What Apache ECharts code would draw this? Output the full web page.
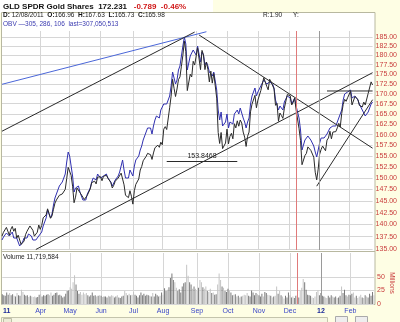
<!DOCTYPE html>
<html><head><meta charset="utf-8">
<script src="https://cdn.jsdelivr.net/npm/echarts@6/dist/echarts.min.js"></script>
<style>html,body{margin:0;padding:0;background:#fefee4;}#c{width:400px;height:322px;}</style>
</head><body><div id="c"></div>
<script>
// GLD daily closes, 24 Feb 2011 .. 24 Feb 2012 (trading days)
const firstDay = '2011-02-24', lastDay = '2012-02-24';
const holidays = ['2011-04-22','2011-05-30','2011-07-04','2011-09-05','2011-11-24','2011-12-26','2012-01-02','2012-01-16','2012-02-20'];

const closes = [
  137.6,138.4,138.8,
  139.4,139.7,137.8,139.0,139.6,138.6,139.2,137.2,137.8,138.0,135.9,135.7,136.6,137.9,138.6,138.5,139.7,139.6,138.8,137.6,137.8,138.4,139.9,
  139.0,139.8,141.4,141.4,142.0,143.3,142.3,141.3,141.8,143.2,144.5,145.2,145.5,146.2,146.3,146.5,146.6,147.5,149.9,152.4,
  152.0,150.6,148.2,144.6,145.8,147.8,148.2,146.8,146.6,145.8,145.3,145.0,146.2,146.3,147.6,149.0,149.2,149.3,148.7,150.2,150.1,
  150.3,149.4,150.4,150.5,150.6,150.0,150.2,149.0,147.8,148.4,149.3,149.1,150.0,150.3,151.1,151.3,148.5,146.2,146.3,145.7,147.2,146.0,
  144.3,147.2,148.6,148.7,149.8,151.8,152.6,153.9,154.2,154.9,155.6,155.2,155.3,154.2,155.7,156.9,157.2,157.5,157.0,158.2,
  157.6,161.3,161.9,161.2,161.6,166.5,169.4,173.7,171.4,169.3,171.2,173.6,174.3,177.1,180.0,183.8,181.0,170.8,171.3,175.0,174.3,178.4,177.4,
  177.2,182.0,181.7,176.2,181.3,180.1,176.2,178.2,176.3,173.0,175.8,172.7,175.2,175.3,168.9,160.5,157.9,160.5,156.7,156.8,158.0,
  161.3,157.8,159.6,160.3,159.0,162.6,161.6,163.3,162.0,163.5,162.8,160.6,159.4,157.2,159.6,160.6,165.5,167.4,167.5,169.6,166.5,
  168.4,168.8,170.8,170.4,174.1,174.5,171.9,171.0,173.7,173.0,173.0,171.2,167.1,167.6,163.2,165.2,164.6,163.9,166.4,166.6,169.8,
  169.4,169.5,167.2,167.8,168.9,165.98,166.4,161.4,158.6,153.0,153.0,155.1,155.6,157.1,157.2,156.3,155.9,154.7,151.3,149.6,152.0,
  155.4,156.5,157.3,157.0,156.2,158.7,159.2,160.8,159.0,160.6,161.0,160.7,161.6,162.7,161.8,165.1,167.3,168.6,168.1,169.0,
  169.5,170.6,167.2,166.9,169.3,169.2,168.6,167.1,167.1,166.7,167.9,167.2,167.2,170.1,170.5,173.02,172.231
];

// On-balance volume, millions
const obv = [
  -107,-98,-95,
  -86,-80,-95,-89,-83,-101,-95,-101,-107,-125,-122,-113,-101,-95,-101,-89,-86,-95,-107,-113,-107,-101,-95,
  -95,-83,-65,-53,-41,-17,-29,-41,-29,-2,19,31,43,55,61,67,73,91,127,157,
  145,115,85,37,49,55,55,37,25,13,7,13,31,37,49,67,79,79,73,91,88,
  79,73,85,85,91,79,85,67,55,61,73,70,85,97,115,133,103,79,85,79,103,97,
  85,115,133,133,145,163,175,193,205,217,229,223,229,211,235,253,265,271,259,283,
  277,301,307,301,301,325,355,397,379,361,373,403,415,445,475,502,481,403,409,445,439,463,457,
  448,475,478,427,457,448,418,427,415,397,403,385,397,391,343,283,253,277,235,241,247,
  271,229,247,253,241,271,265,283,271,289,283,259,247,229,247,259,301,325,331,349,325,
  337,343,355,355,373,379,361,355,367,361,361,349,313,319,283,295,289,283,307,307,325,
  319,319,301,307,319,295,301,259,223,163,169,193,193,205,205,193,187,175,157,142,163,
  184,199,205,199,193,211,217,229,223,235,241,235,247,259,253,283,313,331,325,337,
  337,343,319,313,325,319,313,301,301,283,277,265,259,277,283,301,307.05
];

// Daily volume, millions of shares
const volume = [
  18,16,15,
  21,17,20,16,18,15,14,20,16,15,26,22,17,15,16,13,15,14,13,14,12,13,17,
  18,14,16,15,17,18,16,21,15,17,20,21,16,17,15,12,14,19,24,25,
  31,28,40,53,36,24,19,22,17,21,18,20,16,14,16,21,15,16,14,15,16,
  15,13,14,14,12,15,14,16,15,12,14,16,12,11,14,15,24,20,16,19,16,17,
  22,17,15,12,16,21,16,19,15,17,16,15,14,20,14,19,16,14,15,21,
  17,29,24,26,31,48,56,44,40,30,24,27,21,32,38,40,72,52,40,36,28,32,28,
  24,30,44,40,31,28,32,24,22,28,20,21,17,18,36,56,44,32,30,24,22,
  28,25,21,16,17,18,14,15,12,14,15,17,16,20,15,14,25,21,16,20,18,
  16,14,19,14,22,20,17,16,15,12,14,15,32,19,24,16,14,10,15,12,21,
  16,12,14,11,15,16,12,24,30,46,40,26,17,16,15,12,11,14,22,25,16,
  20,15,14,12,11,15,12,16,14,12,14,11,12,15,32,20,26,16,14,17,
  16,19,21,12,15,11,14,17,12,11,16,14,12,19,15,22,16
];

const priceTicks = [135,137.5,140,142.5,145,147.5,150,152.5,155,157.5,160,162.5,165,167.5,170,172.5,175,177.5,180,182.5,185];
const volumeTicks = [0,25,50];
const monthNames = ['Jan','Feb','Mar','Apr','May','Jun','Jul','Aug','Sep','Oct','Nov','Dec'];

// Trend lines: [day index, price]
const obvTrend     = [[0,172.4],[139,186.4]];
const upperChannel = [[0,160.8],[131,186.3]];
const lowerChannel = [[23,134.9],[252,175.4]];
const peakDecline  = [[134,185.5],[252,156.8]];
const lowRise      = [[214,148.2],[252,168.5]];
const flatTop      = [[221,170.7],[252,170.7]];
const supportLevel = 153.8468;
const markedDay = '2011-12-08';

function tradingDays(a, b) {
  const out = [];
  const d = new Date(a + 'T00:00:00Z'), end = new Date(b + 'T00:00:00Z');
  while (d <= end) {
    const wd = d.getUTCDay(), s = d.toISOString().slice(0, 10);
    if (wd !== 0 && wd !== 6 && holidays.indexOf(s) < 0) out.push(s);
    d.setUTCDate(d.getUTCDate() + 1);
  }
  return out;
}
const dates = tradingDays(firstDay, lastDay);
const monthStart = {};
for (let i = 1; i < dates.length; i++) {
  if (dates[i].slice(5, 7) !== dates[i - 1].slice(5, 7)) monthStart[i] = true;
}
const yearStartIdx = dates.findIndex((d, i) => i > 0 && d.slice(5, 7) === '01' && dates[i - 1].slice(5, 7) === '12');
const isYearStart = i => monthStart[i] && (dates[i].slice(5, 7) === '01' || i === 3);
const monthLabel = (i) => {
  const m = +dates[i].slice(5, 7);
  if (m === 1 || i === 3) return '{y|' + dates[i].slice(2, 4) + '}';
  return monthNames[m - 1];
};

const volColors = volume.map((v, i) => (i === 0 || closes[i] >= closes[i - 1]) ? '#7a7a7a' : '#c4c4c4');

const FONT = 'Liberation Sans, Arial, sans-serif';
const GRID_COLOR = '#d6d6d6';
const LINE_BLACK = '#2a2a2a';
const FRAME = '#b8b8a0';

function trend(data, color) {
  return {
    type: 'line', xAxisIndex: 0, yAxisIndex: 0, data: data, symbol: 'none',
    lineStyle: { color: color, width: 1 }, silent: true, z: 4
  };
}

const chart = echarts.init(document.getElementById('c'), null, { renderer: 'canvas' });
chart.setOption({
  animation: false,
  backgroundColor: '#fefee4',
  graphic: { elements: [
    { type: 'rect', z: -20, silent: true, shape: { x: 0, y: 0, width: 213, height: 13 }, style: { fill: '#ffffff' } },
    { type: 'rect', z: -20, silent: true, shape: { x: 1.5, y: 12.5, width: 373.5, height: 292 }, style: { fill: '#ffffff', stroke: FRAME, lineWidth: 1 } },
    { type: 'line', z: 10, silent: true, shape: { x1: 1.5, y1: 251.5, x2: 375, y2: 251.5 }, style: { stroke: FRAME, lineWidth: 1 } },
    // scroll strip under the date axis
    { type: 'rect', z: 10, silent: true, shape: { x: 1.5, y: 317.5, width: 326, height: 8 }, style: { fill: '#f6f6e2', stroke: '#c4c4ac', lineWidth: 1 } },
    { type: 'rect', z: 11, silent: true, shape: { x: 3.5, y: 318.5, width: 8, height: 6 }, style: { fill: '#ececd6', stroke: '#bdbda6', lineWidth: 1 } },
    { type: 'rect', z: 10, silent: true, shape: { x: 335.5, y: 316.5, width: 12, height: 9 }, style: { fill: '#eeeeee', stroke: '#aaaaaa', lineWidth: 1 } },
    { type: 'rect', z: 10, silent: true, shape: { x: 355.5, y: 316.5, width: 12, height: 9 }, style: { fill: '#eeeeee', stroke: '#aaaaaa', lineWidth: 1 } },
    { type: 'text', z: 10, left: 3, top: 1, style: {
      text: '{b|GLD SPDR Gold Shares  172.231}  {r|-0.789  -0.46%}',
      rich: { b: { font: 'bold 8px ' + FONT, fill: '#111' }, r: { font: 'bold 8px ' + FONT, fill: '#d01818' } }
    } },
    { type: 'text', z: 10, left: 3, top: 12, style: {
      text: '{b|D:} 12/08/2011  {b|O:}166.96  {b|H:}167.63  {b|L:}165.73  {b|C:}165.98',
      rich: { b: { font: 'bold 6.5px ' + FONT, fill: '#111' } },
      font: '6.5px ' + FONT, fill: '#222'
    } },
    { type: 'text', z: 10, left: 3, top: 21, style: { text: 'OBV \u2014305, 286, 106  last=307,050,513', font: '6.5px ' + FONT, fill: '#3a3ab0' } },
    { type: 'text', z: 10, left: 263, top: 12, style: { text: 'R:1.90      Y:', font: '6.5px ' + FONT, fill: '#222' } },
    { type: 'text', z: 10, left: 3, top: 254, style: { text: 'Volume 11,719,584', font: '6.5px ' + FONT, fill: '#222' } },
    { type: 'text', z: 10, x: 392, y: 283, rotation: -Math.PI / 2, style: { text: 'Millions', font: '6.5px ' + FONT, fill: '#c83c3c', align: 'center', verticalAlign: 'middle' } }
  ] },
  grid: [
    { left: 2, right: 26, top: 31, height: 219 },
    { left: 2, right: 26, top: 253, height: 51 }
  ],
  xAxis: [
    { type: 'category', gridIndex: 0, data: dates, boundaryGap: false,
      axisLine: { show: false }, axisTick: { show: false }, axisLabel: { show: false },
      splitLine: { show: true, interval: (i) => !!monthStart[i] && !isYearStart(i), lineStyle: { color: GRID_COLOR, width: 1 } } },
    { type: 'category', gridIndex: 1, data: dates, boundaryGap: false,
      axisLine: { show: false }, axisTick: { show: false },
      axisLabel: { show: true, interval: (i) => !!monthStart[i], formatter: (v, i) => monthLabel(i),
        color: '#3a46c8', fontSize: 7, fontFamily: FONT, margin: 4,
        rich: { y: { color: '#1c2a9a', fontWeight: 'bold', fontSize: 7, fontFamily: FONT } } },
      splitLine: { show: true, interval: (i) => !!monthStart[i] && !isYearStart(i), lineStyle: { color: GRID_COLOR, width: 1 } } }
  ],
  yAxis: [
    { type: 'log', gridIndex: 0, position: 'right', min: 134.8, max: 186.6,
      axisLine: { show: false }, axisTick: { show: false, customValues: priceTicks },
      axisLabel: { customValues: priceTicks, formatter: v => (+v).toFixed(2), color: '#c83c3c', fontSize: 7, fontFamily: FONT, margin: 3 },
      splitLine: { show: true, lineStyle: { color: GRID_COLOR, width: 1 } } },
    { type: 'value', gridIndex: 0, min: -137, max: 520, show: false, splitLine: { show: false } },
    { type: 'value', gridIndex: 1, position: 'right', min: 0, max: 93.75,
      axisLine: { show: false }, axisTick: { show: false, customValues: volumeTicks },
      axisLabel: { customValues: volumeTicks, color: '#c83c3c', fontSize: 7, fontFamily: FONT, margin: 3 },
      splitLine: { show: true, lineStyle: { color: GRID_COLOR, width: 1 } } }
  ],
  series: [
    { name: 'OBV', type: 'line', xAxisIndex: 0, yAxisIndex: 1, data: obv, symbol: 'none',
      lineStyle: { color: '#3030b0', width: 1 }, silent: true, z: 2 },
    { name: 'GLD', type: 'line', xAxisIndex: 0, yAxisIndex: 0, data: closes, symbol: 'none',
      lineStyle: { color: LINE_BLACK, width: 1 }, silent: true, z: 3,
      markLine: { silent: true, symbol: 'none', animation: false,
        data: [
          { xAxis: markedDay, lineStyle: { color: '#e07a7a', width: 1, type: 'solid' }, label: { show: false } },
          { xAxis: yearStartIdx, lineStyle: { color: '#9a9a9a', width: 1, type: 'solid' }, label: { show: false } },
          [ { coord: [112, supportLevel] }, { coord: [160, supportLevel] } ]
        ],
        lineStyle: { color: LINE_BLACK, width: 1, type: 'solid' },
        label: { show: true, position: 'middle', formatter: String(supportLevel), color: '#222', fontSize: 7, fontFamily: FONT, distance: 1 }
      } },
    trend(obvTrend, '#4a66d8'),
    trend(upperChannel, LINE_BLACK),
    trend(lowerChannel, LINE_BLACK),
    trend(peakDecline, LINE_BLACK),
    trend(lowRise, LINE_BLACK),
    trend(flatTop, LINE_BLACK),
    { name: 'Volume', type: 'bar', xAxisIndex: 1, yAxisIndex: 2, barWidth: 1,
      data: volume.map((v, i) => ({ value: v, itemStyle: { color: volColors[i] } })), silent: true,
      markLine: { silent: true, symbol: 'none', label: { show: false },
        data: [
          { xAxis: markedDay, lineStyle: { color: '#e07a7a', width: 1, type: 'solid' } },
          { xAxis: yearStartIdx, lineStyle: { color: '#9a9a9a', width: 1, type: 'solid' } }
        ] } }
  ]
});
</script></body></html>
